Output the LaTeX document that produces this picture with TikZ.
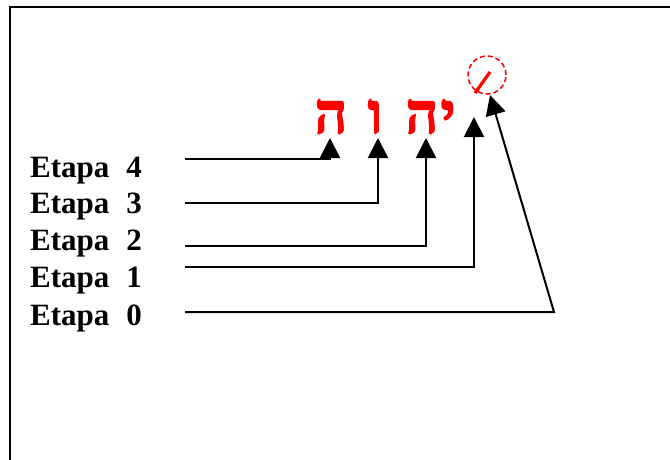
\documentclass[tikz,border=0pt]{standalone}
\usepackage{fontspec}
\setmainfont{Liberation Serif}
\newfontfamily\hebfont[Script=Hebrew, BoldFeatures={FakeBold=2.5}]{Liberation Serif}
\usetikzlibrary{arrows.meta}
\begin{document}
\begin{tikzpicture}[x=1pt,y=-1pt,
  lbl/.style={font=\bfseries\fontsize{31}{36}\selectfont, anchor=base west, inner sep=0pt},
  heb/.style={font=\hebfont\bfseries\fontsize{57}{60}\selectfont, text=red, anchor=base, inner sep=0pt},
  conn/.style={line width=2pt, -{Triangle[width=20pt,length=20pt]}},
  frame/.style={line width=2pt}
]
\useasboundingbox (0,0) rectangle (670,460);
\draw[frame] (10,462) -- (10,7) -- (672,7);

% labels
\node[lbl] (e4) at (30,177) {Etapa\hspace{0.55em}4};
\node[lbl] (e3) at (30,213) {Etapa\hspace{0.55em}3};
\node[lbl] (e2) at (30,250) {Etapa\hspace{0.55em}2};
\node[lbl] (e1) at (30,287) {Etapa\hspace{0.55em}1};
\node[lbl] (e0) at (30,325) {Etapa\hspace{0.55em}0};

% Hebrew letters
\node[heb] (h1) at (331,133) {ה};
\node[heb] (v) at (375,133) {ו};
\node[heb] (h2) at (422,133) {ה};
\node[heb] (y) at (448,133) {י};

% circled stroke
\node[draw=red, dash pattern=on 5pt off 3pt, circle, minimum size=38pt, line width=1.5pt, inner sep=0pt] (circ) at (487,75) {};
\draw[red, line width=3.2pt] (475,93) -- (490,72);

% connector ends
\coordinate (s4) at (185,159); \coordinate (t4) at (330,138);
\coordinate (s3) at (185,203); \coordinate (t3) at (378,138);
\coordinate (s2) at (185,246); \coordinate (t2) at (426,138);
\coordinate (s1) at (185,267); \coordinate (t1) at (474,117);
\coordinate (s0) at (185,312); \coordinate (c0) at (554,312); \coordinate (t0) at (490,95);

\draw[conn] (s4) -| (t4);
\draw[conn] (s3) -| (t3);
\draw[conn] (s2) -| (t2);
\draw[conn] (s1) -| (t1);
\draw[conn] (s0) -- (c0) -- (t0);
\end{tikzpicture}
\end{document}
